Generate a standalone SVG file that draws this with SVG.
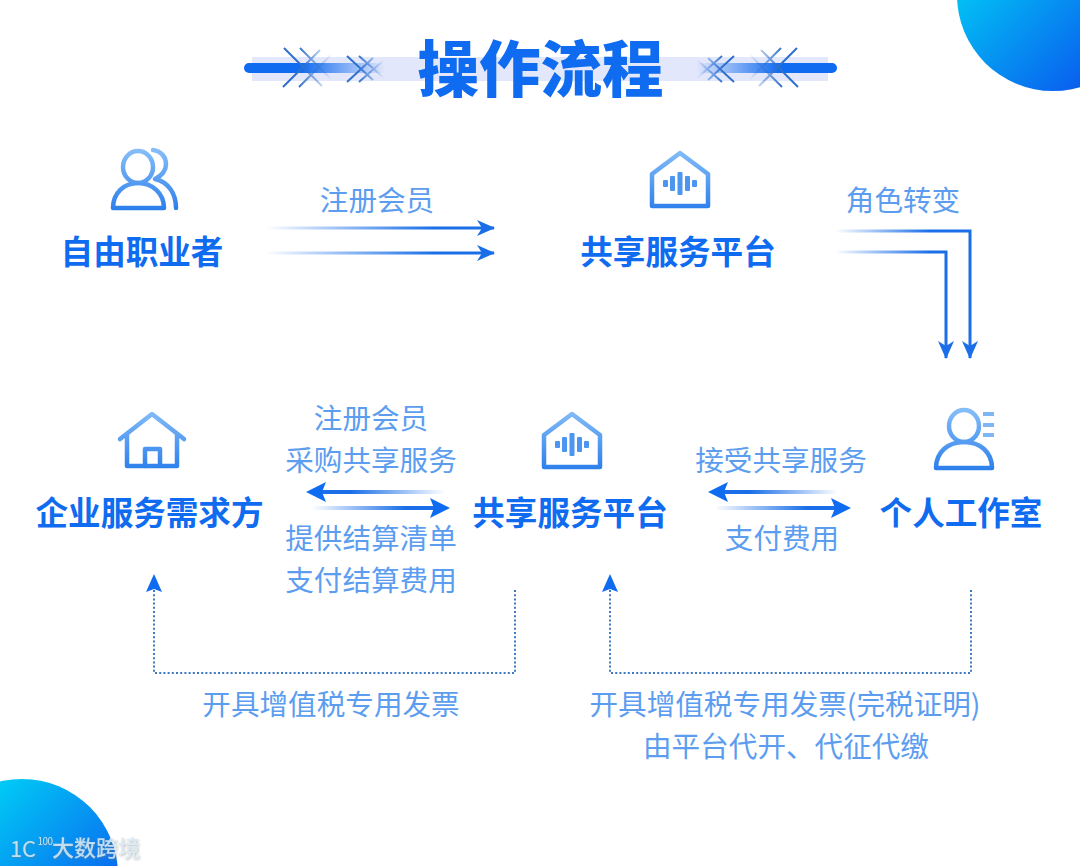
<svg xmlns="http://www.w3.org/2000/svg" width="1080" height="866" viewBox="0 0 1080 866">
<style>
text{font-family:"Noto Sans CJK SC","Noto Sans",sans-serif;text-anchor:middle}
.t{font-size:61.500px;font-weight:900;fill:#0f6bf0}
.n{font-size:32.600px;font-weight:700;fill:#0f6bf0}
.l{font-size:28.600px;font-weight:400;fill:#5c9df0}
.i{fill:none;stroke-width:4.500;stroke-linejoin:round;stroke-linecap:round}
.a{fill:none;stroke-width:3}
.b{fill:none;stroke-width:4}
.d{fill:none;stroke:#3c78c4;stroke-width:2;stroke-dasharray:2 2.200}
.x{fill:none;stroke-width:2}
</style>
<defs>
<filter id="s" x="-10%" y="-20%" width="120%" height="150%"><feDropShadow dx="1" dy="1" stdDeviation="1" flood-color="#777" flood-opacity=".55"/></filter>
<linearGradient id="c1" x1="0" y1="0" x2="1" y2="1"><stop offset="0.12" stop-color="#00d8f6"/><stop offset="0.85" stop-color="#0a58ee"/></linearGradient>
<linearGradient id="u1" gradientUnits="userSpaceOnUse" x1="0" y1="150" x2="0" y2="210"><stop offset="0" stop-color="#85bdf8"/><stop offset="1" stop-color="#2c7fec"/></linearGradient>
<linearGradient id="u2" gradientUnits="userSpaceOnUse" x1="0" y1="410" x2="0" y2="470"><stop offset="0" stop-color="#85bdf8"/><stop offset="1" stop-color="#2c7fec"/></linearGradient>
<linearGradient id="bl" gradientUnits="userSpaceOnUse" x1="244" y1="0" x2="385" y2="0"><stop offset="0.4" stop-color="#0f6bf0"/><stop offset="1" stop-color="#0f6bf0" stop-opacity="0"/></linearGradient>
<linearGradient id="br" gradientUnits="userSpaceOnUse" x1="837" y1="0" x2="696" y2="0"><stop offset="0.4" stop-color="#0f6bf0"/><stop offset="1" stop-color="#0f6bf0" stop-opacity="0"/></linearGradient>
<linearGradient id="x1" gradientUnits="userSpaceOnUse" x1="284" y1="0" x2="332" y2="0"><stop offset="0.3" stop-color="#2f70cc"/><stop offset="1" stop-color="#2f70cc" stop-opacity="0"/></linearGradient>
<linearGradient id="x2" gradientUnits="userSpaceOnUse" x1="347" y1="0" x2="384" y2="0"><stop offset="0.3" stop-color="#2f70cc"/><stop offset="1" stop-color="#2f70cc" stop-opacity="0"/></linearGradient>
<linearGradient id="x3" gradientUnits="userSpaceOnUse" x1="797" y1="0" x2="749" y2="0"><stop offset="0.3" stop-color="#2f70cc"/><stop offset="1" stop-color="#2f70cc" stop-opacity="0"/></linearGradient>
<linearGradient id="x4" gradientUnits="userSpaceOnUse" x1="734" y1="0" x2="697" y2="0"><stop offset="0.3" stop-color="#2f70cc"/><stop offset="1" stop-color="#2f70cc" stop-opacity="0"/></linearGradient>
<linearGradient id="a1" gradientUnits="userSpaceOnUse" x1="265" y1="0" x2="490" y2="0"><stop offset="0" stop-color="#1a6fe8" stop-opacity="0"/><stop offset="0.75" stop-color="#1a6fe8"/></linearGradient>
<linearGradient id="a2" gradientUnits="userSpaceOnUse" x1="835" y1="0" x2="946" y2="0"><stop offset="0" stop-color="#1a6fe8" stop-opacity="0"/><stop offset="0.85" stop-color="#1a6fe8"/></linearGradient>
<linearGradient id="a3" gradientUnits="userSpaceOnUse" x1="445" y1="0" x2="310" y2="0"><stop offset="0" stop-color="#1a6fe8" stop-opacity="0"/><stop offset="0.7" stop-color="#1a6fe8"/></linearGradient>
<linearGradient id="a4" gradientUnits="userSpaceOnUse" x1="312" y1="0" x2="445" y2="0"><stop offset="0" stop-color="#1a6fe8" stop-opacity="0"/><stop offset="0.7" stop-color="#1a6fe8"/></linearGradient>
<linearGradient id="a5" gradientUnits="userSpaceOnUse" x1="838" y1="0" x2="712" y2="0"><stop offset="0" stop-color="#1a6fe8" stop-opacity="0"/><stop offset="0.7" stop-color="#1a6fe8"/></linearGradient>
<linearGradient id="a6" gradientUnits="userSpaceOnUse" x1="715" y1="0" x2="846" y2="0"><stop offset="0" stop-color="#1a6fe8" stop-opacity="0"/><stop offset="0.7" stop-color="#1a6fe8"/></linearGradient>
<marker id="m" markerUnits="userSpaceOnUse" markerWidth="20" markerHeight="20" refX="17" refY="9" orient="auto"><path d="M0 1L18 9L0 17L5 9Z" fill="#1a6fe8"/></marker>
<marker id="m2" markerUnits="userSpaceOnUse" markerWidth="24" markerHeight="24" refX="5" refY="11" orient="auto"><path d="M1 1L21 11L1 21L5 11Z" fill="#0f6bf0"/></marker>
</defs>
<rect width="1080" height="866" fill="#fff"/>
<circle cx="1053" cy="-5" r="96" fill="url(#c1)"/>
<circle cx="22" cy="875" r="96" fill="url(#c1)"/>

<g id="title">
<rect x="252" y="57" width="576" height="24" fill="#e3e7fb"/>
<path d="M249 68H385" stroke="url(#bl)" stroke-width="10" stroke-linecap="round" fill="none"/>
<path d="M832 68H696" stroke="url(#br)" stroke-width="10" stroke-linecap="round" fill="none"/>
<path class="x" stroke="url(#x1)" d="M284 48L322 86M300 48L332 80M283 87L320 50M299 87L332 54"/>
<path class="x" stroke="url(#x2)" d="M347 56L373 80M359 56L384 78M347 82L373 58M359 82L384 60"/>
<path class="x" stroke="url(#x3)" d="M797 48L759 86M781 48L749 80M798 87L761 50M782 87L749 54"/>
<path class="x" stroke="url(#x4)" d="M734 56L708 80M722 56L697 78M734 82L708 58M722 82L697 60"/>
<text class="t" x="540.500" y="92">操作流程</text>
</g>

<g id="node-freelancer">
<g class="i" stroke="url(#u1)">
<ellipse cx="138" cy="167" rx="15" ry="16"/>
<path d="M113 208C113 193 124 183 138 183C152 183 164 193 164 208Z"/>
<path d="M153 150C161 151 166 157 166 164C166 171 161 176 155 179C168 182 176 193 176 208"/>
</g>
<text class="n" x="142" y="264">自由职业者</text>
</g>

<g id="node-platform-top">
<path class="i" stroke="url(#u1)" d="M680 153L652 174V206H708V174Z"/>
<g fill="#4c95f0"><rect x="663" y="180" width="5" height="7" rx="1"/><rect x="670" y="176" width="5" height="15" rx="1"/><rect x="677.500" y="172" width="5" height="23" rx="1"/><rect x="685" y="176" width="5" height="15" rx="1"/><rect x="692" y="180" width="5" height="7" rx="1"/></g>
<text class="n" x="678" y="264">共享服务平台</text>
</g>

<g id="node-enterprise">
<g class="i" stroke="url(#u2)">
<path d="M120 439L152 414L184 439"/>
<path d="M127 434V466H177V434"/>
<path d="M145 466V449H160V466"/>
</g>
<text class="n" x="149.500" y="525">企业服务需求方</text>
</g>

<g id="node-platform-mid">
<path class="i" stroke="url(#u2)" d="M572 414L544 435V467H600V435Z"/>
<g fill="#4c95f0"><rect x="555" y="441" width="5" height="7" rx="1"/><rect x="562" y="437" width="5" height="15" rx="1"/><rect x="569.500" y="433" width="5" height="23" rx="1"/><rect x="577" y="437" width="5" height="15" rx="1"/><rect x="584" y="441" width="5" height="7" rx="1"/></g>
<text class="n" x="570" y="525">共享服务平台</text>
</g>

<g id="node-studio">
<g class="i" stroke="url(#u2)">
<ellipse cx="964" cy="426" rx="15" ry="16"/>
<path d="M936 468C936 452 948 442 964 442C980 442 992 452 992 468Z"/>
</g>
<g fill="#7db5f5"><rect x="983" y="412" width="11" height="4"/><rect x="983" y="423" width="11" height="4"/><rect x="983" y="433" width="11" height="4"/></g>
<text class="n" x="961" y="525">个人工作室</text>
</g>

<g id="connectors">
<path class="a" stroke="url(#a1)" d="M265 228H494" marker-end="url(#m)"/>
<path class="a" stroke="url(#a1)" d="M265 253H494" marker-end="url(#m)"/>
<path class="a" stroke="url(#a2)" d="M835 231H970V358" marker-end="url(#m)"/>
<path class="a" stroke="url(#a2)" d="M835 252H946V358" marker-end="url(#m)"/>
<path class="b" stroke="url(#a3)" d="M445 492H322" marker-end="url(#m2)"/>
<path class="b" stroke="url(#a4)" d="M312 508H434" marker-end="url(#m2)"/>
<path class="b" stroke="url(#a5)" d="M838 492H724" marker-end="url(#m2)"/>
<path class="b" stroke="url(#a6)" d="M715 508H835" marker-end="url(#m2)"/>
<path class="d" d="M515 590V673H154V590"/>
<path class="d" d="M971 590V673H610V590"/>
<path d="M154 574L162 592L154 589L146 592Z" fill="#0f6bf0"/>
<path d="M610 574L618 592L610 589L602 592Z" fill="#0f6bf0"/>
</g>

<g id="labels">
<text class="l" x="377" y="211">注册会员</text>
<text class="l" x="903" y="211">角色转变</text>
<text class="l" x="371" y="429">注册会员</text>
<text class="l" x="371" y="471">采购共享服务</text>
<text class="l" x="371" y="549">提供结算清单</text>
<text class="l" x="371" y="591">支付结算费用</text>
<text class="l" x="781" y="471">接受共享服务</text>
<text class="l" x="782" y="549">支付费用</text>
<text class="l" x="331" y="715">开具增值税专用发票</text>
<text class="l" x="785" y="715">开具增值税专用发票(完税证明)</text>
<text class="l" x="786" y="757">由平台代开、代征代缴</text>
</g>

<g id="watermark" fill="#dcebf4" fill-opacity="0.85" filter="url(#s)">
<text x="23" y="857" style="font-size:22px;font-weight:400">1C</text>
<text x="45" y="845" style="font-size:10px;font-weight:400;letter-spacing:-.5px">100</text>
<text x="96" y="856" style="font-size:22px;font-weight:500">大数跨境</text>
</g>
</svg>
